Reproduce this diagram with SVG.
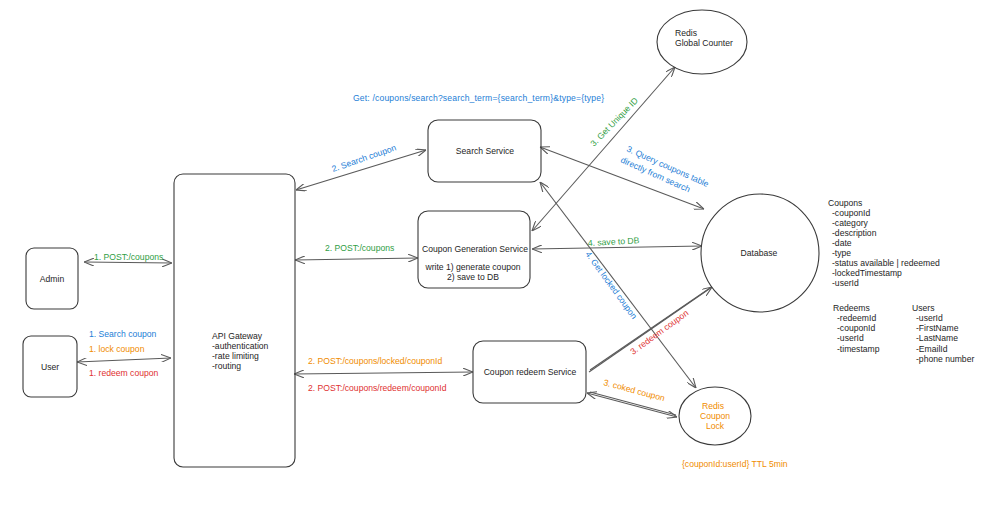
<svg xmlns="http://www.w3.org/2000/svg" width="1000" height="521" viewBox="0 0 1000 521">
<defs>
<style>
.shape{fill:none;stroke:#3a3a3a;stroke-width:1.1}
.con{fill:none;stroke:#5a5a5a;stroke-width:1.1}
.t{font-family:"Liberation Sans",Arial,sans-serif;font-size:8.6px;fill:#1e1e1e}
.m{text-anchor:middle}
.g{fill:#2f9e44}
.b{fill:#1c7ed6}
.o{fill:#f08c00}
.r{fill:#e03131}
</style>
<marker id="ah" viewBox="0 0 10 8" refX="10" refY="4" markerWidth="10" markerHeight="8" markerUnits="userSpaceOnUse" orient="auto-start-reverse">
<path d="M0,0 L10,4 L0,8" fill="none" stroke="#5a5a5a" stroke-width="1.1"/>
</marker>
</defs>
<rect width="1000" height="521" fill="#ffffff"/>

<g id="connectors">
<line class="con" x1="84" y1="262" x2="172" y2="263" marker-start="url(#ah)" marker-end="url(#ah)"/>
<line class="con" x1="77" y1="362" x2="171" y2="358" marker-start="url(#ah)" marker-end="url(#ah)"/>
<line class="con" x1="296" y1="190" x2="426" y2="150" marker-start="url(#ah)" marker-end="url(#ah)"/>
<line class="con" x1="295" y1="260" x2="418" y2="258" marker-start="url(#ah)" marker-end="url(#ah)"/>
<line class="con" x1="294" y1="374" x2="473" y2="372" marker-start="url(#ah)" marker-end="url(#ah)"/>
<line class="con" x1="532" y1="231" x2="675" y2="67" marker-start="url(#ah)" marker-end="url(#ah)"/>
<line class="con" x1="540" y1="147" x2="704" y2="209" marker-start="url(#ah)" marker-end="url(#ah)"/>
<line class="con" x1="532" y1="249" x2="702" y2="246" marker-start="url(#ah)" marker-end="url(#ah)"/>
<line class="con" x1="540" y1="182" x2="696" y2="388" marker-start="url(#ah)" marker-end="url(#ah)"/>
<line class="con" x1="589" y1="372" x2="712" y2="287" marker-end="url(#ah)"/>
<line class="con" x1="590" y1="370" x2="710" y2="288" stroke-width="0.7"/>
<line class="con" x1="587" y1="393" x2="677" y2="417" marker-start="url(#ah)" marker-end="url(#ah)"/>
<line class="con" x1="590" y1="392" x2="676" y2="415" stroke-width="0.7"/>
</g>

<g id="connector-labels">
<text class="t g" x="94" y="260">1. POST:/coupons</text>
<text class="t b" x="89" y="337">1. Search coupon</text>
<text class="t o" x="89" y="352">1. lock coupon</text>
<text class="t r" x="89" y="376">1. redeem coupon</text>
<text class="t b" transform="translate(333,172) rotate(-19)">2. Search coupon</text>
<text class="t g" x="325" y="251">2. POST:/coupons</text>
<text class="t o" x="308" y="364">2. POST:/coupons/locked/couponId</text>
<text class="t r" x="308" y="391">2. POST:/coupons/redeem/couponId</text>
<text class="t b" x="353" y="101" textLength="251" lengthAdjust="spacing">Get: /coupons/search?search_term={search_term}&amp;type={type}</text>
<text class="t g" transform="translate(594,147) rotate(-46)">3. Get Unique ID</text>
<text class="t b" transform="translate(626,151) rotate(24)">3. Query coupons table</text>
<text class="t b" transform="translate(620,162) rotate(24)">directly from search</text>
<text class="t g" transform="translate(588,246) rotate(-3)">4. save to DB</text>
<text class="t b" transform="translate(585,254) rotate(54)">4. Get locked coupon</text>
<text class="t r" transform="translate(633,355) rotate(-36)">3. redeem coupon</text>
<text class="t o" transform="translate(603,385) rotate(15)">3. coked coupon</text>
</g>

<g id="admin">
<rect class="shape" x="26" y="248" width="52" height="61" rx="8"/>
<text class="t m" x="52" y="282">Admin</text>
</g>
<g id="user">
<rect class="shape" x="23" y="336" width="54" height="61" rx="8"/>
<text class="t m" x="50" y="370">User</text>
</g>
<g id="api-gateway">
<rect class="shape" x="174" y="174" width="121" height="293" rx="9"/>
<text class="t" x="212" y="339">API Gateway</text>
<text class="t" x="212" y="349">-authentication</text>
<text class="t" x="212" y="359">-rate limiting</text>
<text class="t" x="212" y="369">-routing</text>
</g>
<g id="search-service">
<rect class="shape" x="428" y="120" width="113" height="62" rx="10"/>
<text class="t m" x="485" y="154">Search Service</text>
</g>
<g id="coupon-generation-service">
<rect class="shape" x="418" y="211" width="112" height="77" rx="10"/>
<text class="t m" x="475" y="252">Coupon Generation Service</text>
<text class="t m" x="473" y="270">write 1) generate coupon</text>
<text class="t m" x="473" y="280">2) save to DB</text>
</g>
<g id="coupon-redeem-service">
<rect class="shape" x="473" y="341" width="113" height="62" rx="10"/>
<text class="t m" x="530" y="375">Coupon redeem Service</text>
</g>
<g id="redis-global-counter">
<ellipse class="shape" cx="702" cy="42" rx="45" ry="32"/>
<text class="t" x="675" y="36">Redis</text>
<text class="t" x="675" y="46">Global Counter</text>
</g>
<g id="database">
<circle class="shape" cx="760" cy="253" r="59"/>
<text class="t m" x="759" y="256">Database</text>
</g>
<g id="redis-coupon-lock">
<ellipse class="shape" cx="715" cy="416" rx="36" ry="29"/>
<text class="t m o" x="713" y="409">Redis</text>
<text class="t m o" x="715" y="419">Coupon</text>
<text class="t m o" x="715" y="429">Lock</text>
</g>

<g id="notes">
<text class="t" x="828" y="206">Coupons</text>
<text class="t" x="832" y="216">-couponId</text>
<text class="t" x="832" y="226">-category</text>
<text class="t" x="832" y="236">-description</text>
<text class="t" x="832" y="246">-date</text>
<text class="t" x="832" y="256">-type</text>
<text class="t" x="832" y="266">-status available | redeemed</text>
<text class="t" x="832" y="276">-lockedTimestamp</text>
<text class="t" x="832" y="286">-userId</text>
<text class="t" x="833" y="311">Redeems</text>
<text class="t" x="837" y="321">-redeemId</text>
<text class="t" x="837" y="331">-couponId</text>
<text class="t" x="837" y="341">-userId</text>
<text class="t" x="837" y="352">-timestamp</text>
<text class="t" x="912" y="311">Users</text>
<text class="t" x="916" y="321">-userId</text>
<text class="t" x="916" y="331">-FirstName</text>
<text class="t" x="916" y="341">-LastName</text>
<text class="t" x="916" y="352">-EmailId</text>
<text class="t" x="916" y="362">-phone number</text>
<text class="t o" x="682" y="467">{couponId:userId} TTL 5min</text>
</g>
</svg>
